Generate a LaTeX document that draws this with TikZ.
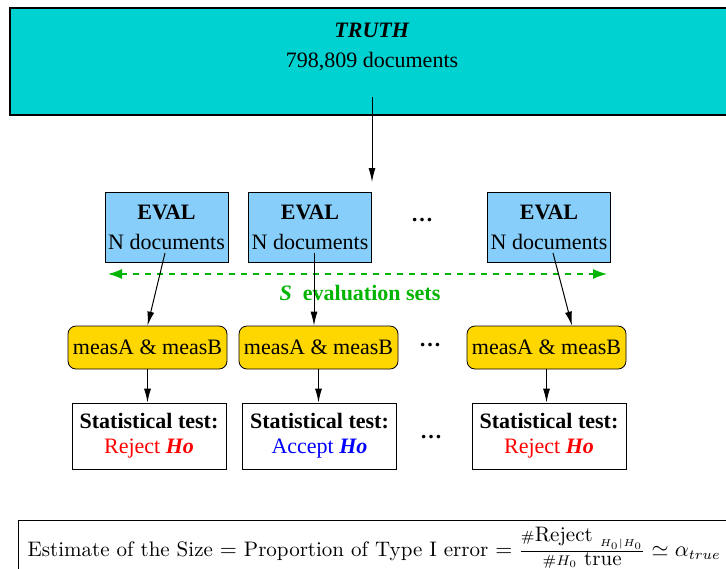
\documentclass[tikz,border=0pt]{standalone}
\usepackage{amsmath,amssymb}
\usepackage{fontspec}
\newfontfamily\boxfont{Liberation Serif}
\usetikzlibrary{arrows.meta,calc}
\definecolor{truthcyan}{RGB}{0,210,210}
\definecolor{evalblue}{RGB}{135,206,250}
\definecolor{measgold}{RGB}{255,215,0}
\definecolor{setgreen}{RGB}{0,180,0}
\tikzset{
	truthbox/.style={draw, fill=truthcyan, minimum width=362pt, minimum height=53.5pt, line width=0.6pt},
	evalbox/.style={draw, fill=evalblue, minimum width=61.5pt, minimum height=35pt, inner sep=1pt, align=center, font=\boxfont\fontsize{11}{15}\selectfont},
	measbox/.style={draw, fill=measgold, rounded corners=4pt, minimum width=79.5pt, minimum height=21.5pt, inner sep=1pt, font=\boxfont\fontsize{11}{13}\selectfont},
	testbox/.style={draw, fill=white, minimum width=77pt, minimum height=33pt, inner sep=1pt, align=center, font=\boxfont\fontsize{11}{12.5}\selectfont},
	moredots/.style={font=\boxfont\fontsize{11}{13}\selectfont},
	arr/.style={-{Latex[length=7pt,width=3.5pt]}, line width=0.5pt},
}
\begin{document}
\begin{tikzpicture}[x=0.5pt,y=-0.5pt]
			\clip (0,0) rectangle (726,568);
			% truth
			\node[truthbox] (truth) at (372,61.5) {};
			\node[font=\boxfont\fontsize{11}{15}\selectfont, align=center] (truthtxt) at (372,47) {\textbf{\textit{TRUTH}}\\798,809 documents};
			\coordinate (truthout) at (372,97);
			\coordinate (evalin) at (372,182);
			\draw[arr] (truthout) -- (evalin);
			% evaluation sets
			\node[evalbox] (eval1) at (166.5,227) {\textbf{EVAL}\\N documents};
			\node[evalbox] (eval2) at (310,227) {\textbf{EVAL}\\N documents};
			\node[evalbox] (eval3) at (549,227) {\textbf{EVAL}\\N documents};
			\node[moredots] (dots1) at (422,220) {\textbf{\dots}};
			\coordinate (setl) at (108,274);
			\coordinate (setr) at (607,274);
			\draw[setgreen, dashed, line width=0.6pt, {Latex[length=7pt,width=5pt]}-{Latex[length=7pt,width=5pt]}] (setl) -- (setr);
			\node[moredots, text=setgreen] (settxt) at (360,293) {\textbf{\textit{S}}\ \ \textbf{evaluation sets}};
			% measures
			\node[measbox] (meas1) at (147.5,347.5) {measA \& measB};
			\node[measbox] (meas2) at (318.5,347.5) {measA \& measB};
			\node[measbox] (meas3) at (546.5,347.5) {measA \& measB};
			\node[moredots] (dots2) at (430,345) {\textbf{\dots}};
			\coordinate (e1) at (165,253);
			\coordinate (e2) at (314,253);
			\coordinate (e3) at (553,253);
			\draw[arr] (e1) -- (meas1.north);
			\draw[arr] (e2) -- (e2 |- meas2.north);
			\draw[arr] (e3) -- ($(meas3.north)+(25.5,0)$);
			% tests
			\node[testbox] (test1) at (149,436) {\textbf{Statistical test:}\\\textcolor{red}{Reject \textbf{\textit{Ho}}}};
			\node[testbox] (test2) at (319.5,436) {\textbf{Statistical test:}\\\textcolor{blue}{Accept \textbf{\textit{Ho}}}};
			\node[testbox] (test3) at (549,436) {\textbf{Statistical test:}\\\textcolor{red}{Reject \textbf{\textit{Ho}}}};
			\node[moredots] (dots3) at (431,437) {\textbf{\dots}};
			\draw[arr] (meas1.south) -- (meas1.south |- test1.north);
			\draw[arr] (meas2.south) -- (meas2.south |- test2.north);
			\draw[arr] (meas3.south) -- (meas3.south |- test3.north);
			% size
			\node[draw, line width=0.6pt, anchor=north west, text width=360pt, minimum height=25pt, inner xsep=4.5pt, align=left, font=\fontsize{10.5}{13}\selectfont] (size) at (18,520) {Estimate of the Size $=$ Proportion of Type I error $= \frac{\#\mbox{Reject }_{H_0|H_0}\rule[-2.5pt]{0pt}{0pt}}{\#H_0\mbox{ true}} \simeq \alpha_{true}$};
		\end{tikzpicture}
\end{document}
